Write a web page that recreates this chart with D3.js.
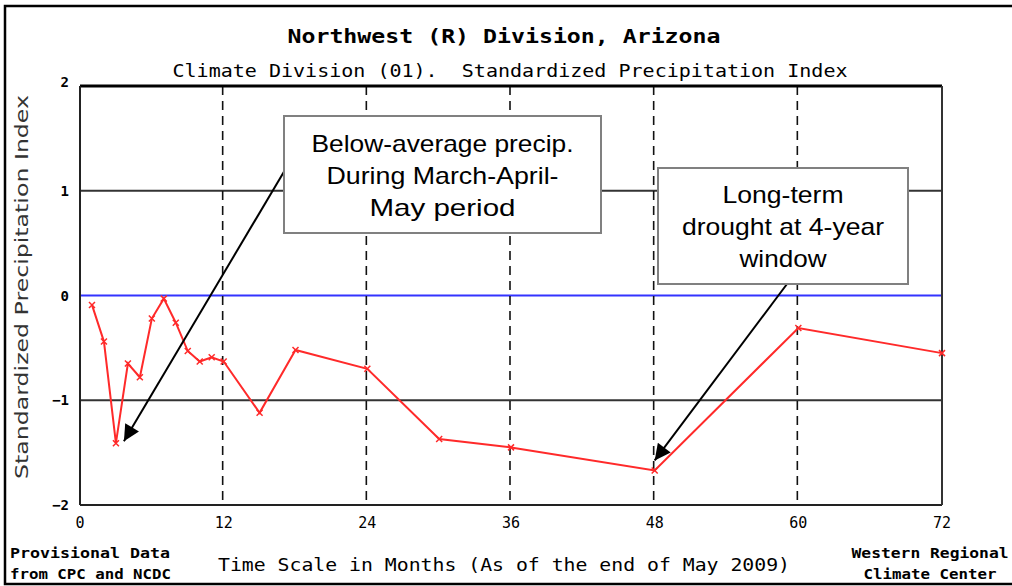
<!DOCTYPE html>
<html>
<head>
<meta charset="utf-8">
<script src="https://cdn.jsdelivr.net/npm/d3@7"></script>
<style>
  html, body { margin: 0; padding: 0; background: #fff; }
  svg { display: block; }
  .mono { font-family: "DejaVu Sans Mono", monospace; }
  .note { font-family: "Liberation Sans", Arial, sans-serif; }
</style>
</head>
<body>
<div id="chart"></div>
<script>
// Chart size and plot box.
const width = 1012;
const height = 586;
const plot = { left: 80, right: 942, top: 86, bottom: 505 };

// SPI time scales (months) and values.
const months = [1, 2, 3, 4, 5, 6, 7, 8, 9, 10, 11, 12, 15, 18, 24, 30, 36, 48, 60, 72];
const spi = [-0.09, -0.44, -1.41, -0.65, -0.78, -0.22, -0.03, -0.26, -0.53, -0.63, -0.59, -0.63,
             -1.12, -0.52, -0.70, -1.37, -1.45, -1.67, -0.31, -0.55];

const xTicks = [0, 12, 24, 36, 48, 60, 72];
const yTicks = [2, 1, 0, -1, -2];
const dashedAt = [12, 24, 36, 48, 60];

// Callout text
const note1 = ["Below-average precip.", "During March-April-", "May period"];
const note2 = ["Long-term", "drought at 4-year", "window"];

const svg = d3.select("#chart").append("svg")
    .attr("width", width)
    .attr("height", height);

const x = d3.scaleLinear().domain([0, 72]).range([plot.left, plot.right]);
const y = d3.scaleLinear().domain([-2, 2]).range([plot.bottom, plot.top]);

// outer frame (right edge runs off the picture)
svg.append("rect")
    .attr("x", 5).attr("y", 6)
    .attr("width", 1020).attr("height", 578)
    .attr("fill", "none").attr("stroke", "#000").attr("stroke-width", 2.5);

// titles
svg.append("text").attr("class", "mono")
    .attr("x", 504).attr("y", 43)
    .attr("text-anchor", "middle")
    .attr("font-size", 20).attr("font-weight", "bold")
    .attr("textLength", 433).attr("lengthAdjust", "spacingAndGlyphs")
    .text("Northwest (R) Division, Arizona");

svg.append("text").attr("class", "mono")
    .attr("x", 510).attr("y", 77)
    .attr("text-anchor", "middle")
    .attr("font-size", 17)
    .attr("textLength", 675).attr("lengthAdjust", "spacingAndGlyphs")
    .attr("xml:space", "preserve")
    .text("Climate Division (01).  Standardized Precipitation Index");

// horizontal reference lines at +1 / -1
svg.append("g").selectAll("line")
    .data([1, -1])
    .join("line")
    .attr("x1", plot.left).attr("x2", plot.right)
    .attr("y1", d => y(d)).attr("y2", d => y(d))
    .attr("stroke", "#333").attr("stroke-width", 2);

// zero line
svg.append("line")
    .attr("x1", plot.left).attr("x2", plot.right)
    .attr("y1", y(0)).attr("y2", y(0))
    .attr("stroke", "#3333ff").attr("stroke-width", 2);

// dashed verticals
svg.append("g").selectAll("line")
    .data(dashedAt)
    .join("line")
    .attr("x1", d => x(d) - 1).attr("x2", d => x(d) - 1)
    .attr("y1", plot.top).attr("y2", plot.bottom)
    .attr("stroke", "#111").attr("stroke-width", 1.6)
    .attr("stroke-dasharray", "9,6");

// plot box
svg.append("line").attr("x1", plot.left).attr("x2", plot.right)
    .attr("y1", plot.top).attr("y2", plot.top)
    .attr("stroke", "#000").attr("stroke-width", 3);
svg.append("line").attr("x1", plot.left).attr("x2", plot.right)
    .attr("y1", plot.bottom).attr("y2", plot.bottom)
    .attr("stroke", "#222").attr("stroke-width", 2);
svg.append("line").attr("x1", plot.left).attr("x2", plot.left)
    .attr("y1", plot.top).attr("y2", plot.bottom)
    .attr("stroke", "#222").attr("stroke-width", 2);
svg.append("line").attr("x1", plot.right).attr("x2", plot.right)
    .attr("y1", plot.top).attr("y2", plot.bottom)
    .attr("stroke", "#333").attr("stroke-width", 2);

// y tick labels
svg.append("g").selectAll("text")
    .data(yTicks)
    .join("text")
    .attr("class", "mono")
    .attr("x", 69)
    .attr("y", d => y(d) + (d === 2 ? 1 : 5))
    .attr("text-anchor", "end")
    .attr("font-size", 14).attr("font-weight", "bold")
    .text(d => d < 0 ? "\u2212" + Math.abs(d) : d);

// x tick labels
svg.append("g").selectAll("text")
    .data(xTicks)
    .join("text")
    .attr("class", "mono")
    .attr("x", d => x(d))
    .attr("y", 528)
    .attr("text-anchor", "middle")
    .attr("font-size", 15)
    .text(d => d);

// y axis title
svg.append("text")
    .attr("transform", "translate(28,287) rotate(-90)")
    .attr("text-anchor", "middle")
    .attr("font-family", "DejaVu Sans, sans-serif")
    .attr("font-size", 18)
    .attr("fill", "#333")
    .attr("textLength", 384).attr("lengthAdjust", "spacingAndGlyphs")
    .text("Standardized Precipitation Index");

// x axis title and footers
svg.append("text").attr("class", "mono")
    .attr("x", 504).attr("y", 571)
    .attr("text-anchor", "middle")
    .attr("font-size", 18)
    .attr("textLength", 572).attr("lengthAdjust", "spacingAndGlyphs")
    .text("Time Scale in Months (As of the end of May 2009)");

const footL = ["Provisional Data", "from CPC and NCDC"];
const footR = ["Western Regional", "Climate Center"];
svg.append("g").selectAll("text")
    .data(footL)
    .join("text")
    .attr("class", "mono")
    .attr("x", 10).attr("y", (d, i) => 558 + i * 21)
    .attr("font-size", 14).attr("font-weight", "bold")
    .attr("textLength", (d, i) => i ? 161 : 160).attr("lengthAdjust", "spacingAndGlyphs")
    .text(d => d);
svg.append("g").selectAll("text")
    .data(footR)
    .join("text")
    .attr("class", "mono")
    .attr("x", 930).attr("y", (d, i) => 558 + i * 21)
    .attr("text-anchor", "middle")
    .attr("font-size", 14).attr("font-weight", "bold")
    .attr("textLength", (d, i) => i ? 133 : 157).attr("lengthAdjust", "spacingAndGlyphs")
    .text(d => d);

// SPI line
const pts = months.map((m, i) => [m, spi[i]]);
svg.append("path")
    .datum(pts)
    .attr("fill", "none")
    .attr("stroke", "#ff2a2a")
    .attr("stroke-width", 2)
    .attr("d", d3.line().x(d => x(d[0])).y(d => y(d[1])));

// x markers
svg.append("g").selectAll("path")
    .data(pts)
    .join("path")
    .attr("d", d => {
        const cx = x(d[0]), cy = y(d[1]), s = 3;
        return `M${cx - s},${cy - s}L${cx + s},${cy + s}M${cx - s},${cy + s}L${cx + s},${cy - s}`;
    })
    .attr("stroke", "#ff2a2a").attr("stroke-width", 1.5);

// callouts
svg.append("defs").append("marker")
    .attr("id", "head")
    .attr("viewBox", "0 0 10 10")
    .attr("refX", 10).attr("refY", 5)
    .attr("markerWidth", 10).attr("markerHeight", 8)
    .attr("markerUnits", "strokeWidth")
    .attr("orient", "auto")
    .append("path").attr("d", "M0,0L10,5L0,10Z").attr("fill", "#000");

svg.append("line")
    .attr("x1", 285).attr("y1", 170)
    .attr("x2", x(3) + 8).attr("y2", y(spi[2]) - 2)
    .attr("stroke", "#000").attr("stroke-width", 2)
    .attr("marker-end", "url(#head)");
svg.append("line")
    .attr("x1", 787).attr("y1", 284)
    .attr("x2", x(48)).attr("y2", y(spi[17]) - 10)
    .attr("stroke", "#000").attr("stroke-width", 2)
    .attr("marker-end", "url(#head)");

function callout(box, lines, widths, base0) {
    svg.append("rect")
        .attr("x", box.x).attr("y", box.y)
        .attr("width", box.w).attr("height", box.h)
        .attr("fill", "#fff").attr("stroke", "#808080").attr("stroke-width", 2);
    svg.append("g").selectAll("text")
        .data(lines)
        .join("text")
        .attr("class", "note")
        .attr("x", box.x + box.w / 2)
        .attr("y", (d, i) => base0 + i * 32)
        .attr("text-anchor", "middle")
        .attr("font-size", 24)
        .attr("fill", "#000")
        .attr("textLength", (d, i) => widths[i]).attr("lengthAdjust", "spacingAndGlyphs")
        .text(d => d);
}

callout({ x: 284, y: 116, w: 317, h: 117 }, note1, [262, 232, 146], 152);
callout({ x: 658, y: 168, w: 250, h: 116 }, note2, [121, 202, 87], 203);
</script>
</body>
</html>
